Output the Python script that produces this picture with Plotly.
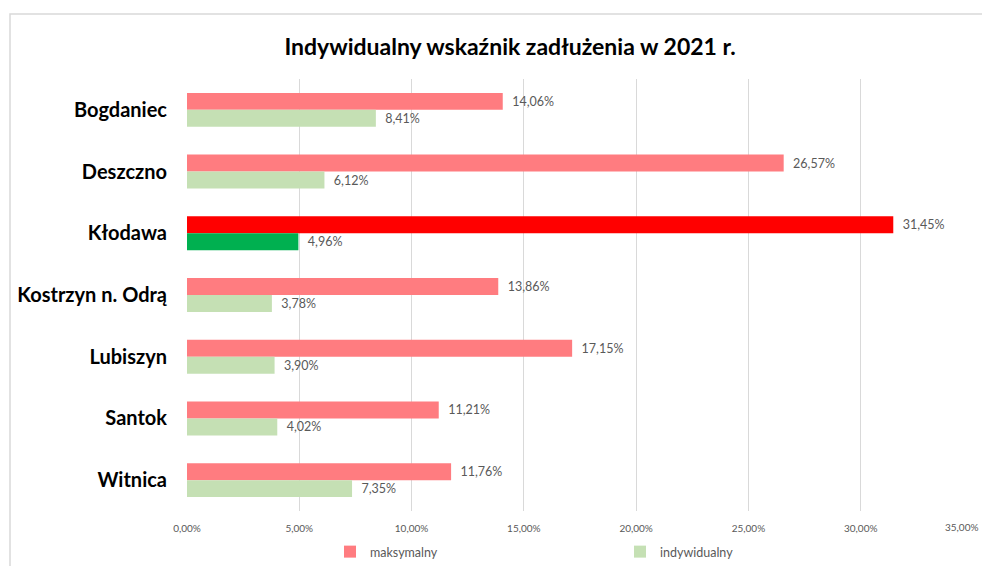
import plotly.graph_objects as go

categories = ["Bogdaniec", "Deszczno", "Kłodawa", "Kostrzyn n. Odrą", "Lubiszyn", "Santok", "Witnica"]
maksymalny = [14.06, 26.57, 31.45, 13.86, 17.15, 11.21, 11.76]
indywidualny = [8.41, 6.12, 4.96, 3.78, 3.90, 4.02, 7.35]
tick_values = [0, 5, 10, 15, 20, 25, 30, 35]
tick_labels = ["0,00%", "5,00%", "10,00%", "15,00%", "20,00%", "25,00%", "30,00%", "35,00%"]

highlight = "Kłodawa"
red_base, red_hi = "#FF7C80", "#FF0000"
green_base, green_hi = "#C5E0B4", "#00B050"

FONT = "Lato"
# the page body keeps its default 8px margin; keep the figure inside the window
OFF = 8
WIN_W, WIN_H = 990, 574
W, H = WIN_W - 2 * OFF, WIN_H - 2 * OFF
PL, PR, PT, PB = 187, 973, 79, 511  # plot area in window pixels
L, T = PL - OFF, PT - OFF
R, B = W - (PR - OFF), H - (PB - OFF)
pw, ph = PR - PL, PB - PT

def px_x(p):
    return (p - PL) / pw

def px_y(p):
    return (PB - p) / ph

fig = go.Figure()
fig.add_trace(go.Bar(
    name="maksymalny", y=categories, x=maksymalny, orientation="h",
    marker=dict(color=[red_hi if c == highlight else red_base for c in categories], line=dict(width=0)),
    texttemplate="  %{x:.2f}%", textposition="outside", cliponaxis=False,
    textfont=dict(family=FONT, size=12.5, color="#595959"), legendrank=1,
))
fig.add_trace(go.Bar(
    name="indywidualny", y=categories, x=indywidualny, orientation="h",
    marker=dict(color=[green_hi if c == highlight else green_base for c in categories], line=dict(width=0)),
    texttemplate="  %{x:.2f}%", textposition="outside", cliponaxis=False,
    textfont=dict(family=FONT, size=12.5, color="#595959"), legendrank=2,
))

tick_font = dict(family=FONT, size=10, color="#595959")
# last tick label drawn as annotation, nudged so it stays inside the figure
shown_ticktext = tick_labels[:-1] + [""]

fig.update_layout(
    width=W, height=H,
    margin=dict(l=L, r=R, t=T, b=B, pad=0, autoexpand=False),
    paper_bgcolor="white", plot_bgcolor="white",
    barmode="group", bargap=0.45, bargroupgap=0,
    separators=", ",
    title=dict(text="<b>Indywidualny wskaźnik zadłużenia w 2021 r.</b>",
               x=px_x(510), xref="paper", xanchor="center",
               y=1 - (47 - OFF) / H, yref="container", yanchor="middle",
               font=dict(family=FONT, size=23, color="#000000")),
    xaxis=dict(range=[0, 35], tickvals=tick_values, ticktext=shown_ticktext,
               showgrid=True, gridcolor="#D9D9D9", gridwidth=1, zeroline=False,
               showline=False, ticks="", ticklabelstandoff=10, automargin=False,
               tickfont=tick_font),
    yaxis=dict(autorange="reversed", showgrid=False, showline=False, ticks="",
               ticklabelstandoff=19, automargin=False,
               tickfont=dict(family=FONT, size=20, color="#000000", weight="bold")),
    legend=dict(orientation="h", x=px_x(330), xanchor="left", y=px_y(552), yanchor="middle",
                xref="paper", yref="paper", entrywidth=245, entrywidthmode="pixels",
                itemwidth=30, font=dict(family=FONT, size=12.5, color="#595959")),
    showlegend=True,
    annotations=[dict(text=tick_labels[-1], x=tick_values[-1], xref="x",
                      y=px_y(527), yref="paper", xanchor="right", yanchor="middle",
                      xshift=8, showarrow=False, font=tick_font)],
    shapes=[dict(type="rect", xref="paper", yref="paper",
                 x0=px_x(10), x1=px_x(1005), y0=px_y(600), y1=px_y(14),
                 line=dict(color="#D9D9D9", width=1.5), fillcolor="rgba(0,0,0,0)", layer="below")],
)

fig.write_html("out.html", config={"displayModeBar": False})
